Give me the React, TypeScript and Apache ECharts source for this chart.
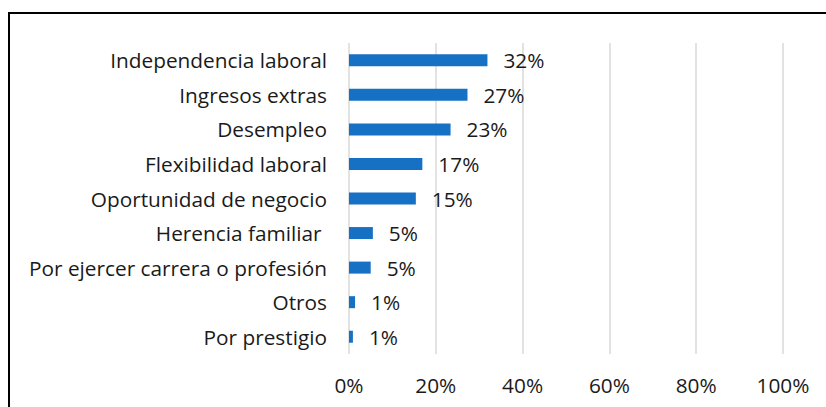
import React, { useEffect, useRef } from "react";
import * as echarts from "echarts";

const categories = [
  "Independencia laboral",
  "Ingresos extras",
  "Desempleo",
  "Flexibilidad laboral",
  "Oportunidad de negocio",
  "Herencia familiar ",
  "Por ejercer carrera o profesión",
  "Otros",
  "Por prestigio",
];
const values = [31.9, 27.3, 23.4, 16.9, 15.4, 5.5, 5.0, 1.4, 0.9];
const labels = ["32%", "27%", "23%", "17%", "15%", "5%", "5%", "1%", "1%"];
const xTicks = [0, 20, 40, 60, 80, 100];

const FONT = "Open Sans";
const FS = 20.8;

export default function App() {
  const ref = useRef<HTMLDivElement>(null);
  useEffect(() => {
    if (!ref.current) return;
    const chart = echarts.init(ref.current, undefined, { renderer: "svg" });
    chart.setOption({
      animation: false,
      backgroundColor: "#ffffff",
      textStyle: { fontFamily: FONT },
      graphic: [
        {
          type: "rect",
          shape: { x: 9, y: 13, width: 830, height: 410 },
          style: { fill: "none", stroke: "#000000", lineWidth: 2 },
          silent: true,
        },
      ],
      grid: { left: 349, right: 43, top: 43, bottom: 53, containLabel: false },
      xAxis: {
        type: "value",
        min: xTicks[0],
        max: xTicks[xTicks.length - 1],
        interval: 20,
        axisLine: { show: false },
        axisTick: { show: false },
        splitLine: { show: true, lineStyle: { color: "#d9d9d9", width: 1.5 } },
        axisLabel: {
          formatter: (v: number) => `${v}%`,
          color: "#1a1a1a",
          fontSize: FS,
          fontFamily: FONT,
          margin: 20,
        },
      },
      yAxis: {
        type: "category",
        data: categories,
        inverse: true,
        axisLine: { show: false },
        axisTick: { show: false },
        axisLabel: {
          color: "#1a1a1a",
          fontSize: FS,
          fontFamily: FONT,
          margin: 22,
        },
      },
      series: [
        {
          type: "bar",
          data: values,
          barWidth: 12,
          itemStyle: { color: "#1670c4" },
          label: {
            show: true,
            position: "right",
            distance: 16,
            color: "#1a1a1a",
            fontSize: FS,
            fontFamily: FONT,
            formatter: (p: any) => labels[p.dataIndex],
          },
        },
      ],
    });
    return () => chart.dispose();
  }, []);
  return (
    <div
      ref={ref}
      style={{ position: "fixed", left: 0, top: 0, width: 826, height: 407 }}
    />
  );
}
